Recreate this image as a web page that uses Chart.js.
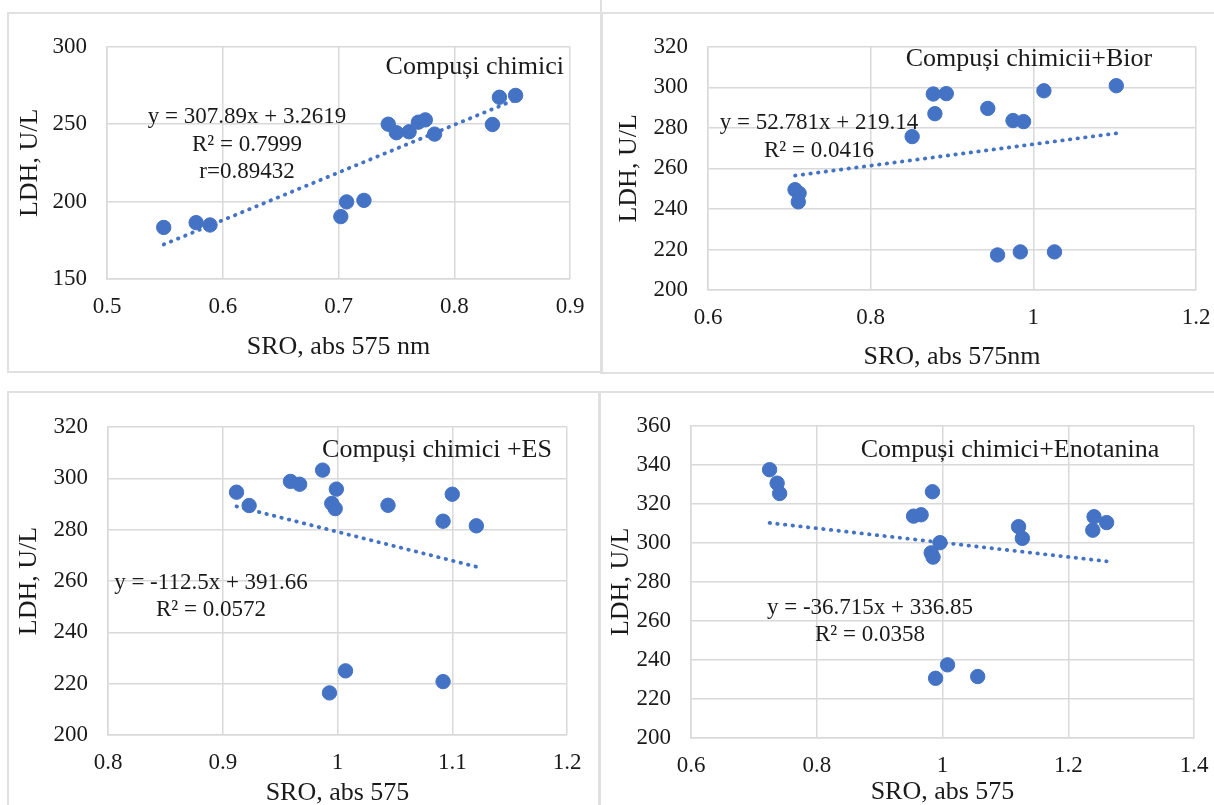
<!DOCTYPE html>
<html>
<head>
<meta charset="utf-8">
<script src="https://cdn.jsdelivr.net/npm/chart.js@4.4.1/dist/chart.umd.min.js"></script>
<style>
  html, body { margin: 0; padding: 0; background: #fff; width: 1214px; height: 805px; overflow: hidden; position: relative; }
  .frame { position: absolute; border: 2px solid #e0e0e0; box-sizing: border-box; }
  canvas { position: absolute; display: block; }
</style>
</head>
<body>
<div class="frame" style="left:7px;top:12px;width:596px;height:361px"></div>
<div class="frame" style="left:600px;top:12px;width:630px;height:362px"></div>
<div class="frame" style="left:600px;top:-5px;width:2px;height:20px;border-width:0 0 0 2px"></div>
<div class="frame" style="left:7px;top:391px;width:594px;height:430px"></div>
<div class="frame" style="left:598px;top:391px;width:630px;height:430px"></div>

<canvas id="chart1"></canvas>
<canvas id="chart2"></canvas>
<canvas id="chart3"></canvas>
<canvas id="chart4"></canvas>

<script>
// ---- data ----
// Compuşii chimici
var p1X = [0.549, 0.577, 0.589, 0.702, 0.707, 0.722, 0.743, 0.750, 0.761, 0.769, 0.775, 0.783, 0.833, 0.839, 0.853];
var p1Y = [183.3, 186.4, 184.9, 190.3, 199.8, 200.8, 250.0, 244.5, 245.1, 251.3, 252.8, 243.6, 249.8, 267.4, 268.6];
var p1XTicks = [0.5, 0.6, 0.7, 0.8, 0.9];
var p1YTicks = [150, 200, 250, 300];
var p1Fit = [307.89, 3.2619];
var p1Name = "Compuși chimici";
var p1Eq = ["y = 307.89x + 3.2619", "R² = 0.7999", "r=0.89432"];

// Compuşii chimicii+Bior
var p2X = [0.707, 0.712, 0.711, 0.851, 0.877, 0.893, 0.879, 0.944, 0.975, 0.988, 1.013, 1.102, 0.956, 0.984, 1.026];
var p2Y = [249.5, 247.7, 243.5, 275.7, 296.7, 296.9, 287.0, 289.6, 283.6, 283.1, 298.3, 300.8, 217.3, 218.8, 218.8];
var p2XTicks = [0.6, 0.8, 1, 1.2];
var p2YTicks = [200, 220, 240, 260, 280, 300, 320];
var p2Fit = [52.781, 219.14];
var p2Name = "Compuși chimicii+Bior";
var p2Eq = ["y = 52.781x + 219.14", "R² = 0.0416"];

// Compuşii chimici +ES
var p3X = [0.912, 0.923, 0.959, 0.967, 0.987, 0.999, 0.995, 0.998, 1.044, 1.100, 1.092, 1.121, 1.007, 0.993, 1.092];
var p3Y = [294.6, 289.4, 298.8, 297.7, 303.2, 295.8, 290.2, 288.2, 289.5, 293.8, 283.3, 281.5, 225.0, 216.4, 220.8];
var p3XTicks = [0.8, 0.9, 1, 1.1, 1.2];
var p3YTicks = [200, 220, 240, 260, 280, 300, 320];
var p3Fit = [-112.5, 391.66];
var p3Name = "Compuși chimici +ES";
var p3Eq = ["y = -112.5x + 391.66", "R² = 0.0572"];

// Compuşii chimici+Enotanina
var p4X = [0.725, 0.737, 0.741, 0.984, 0.954, 0.966, 0.996, 0.982, 0.985, 1.121, 1.127, 1.241, 1.239, 1.261, 1.008, 0.989, 1.056];
var p4Y = [337.5, 330.6, 325.3, 326.2, 313.7, 314.4, 300.1, 294.9, 292.7, 308.3, 302.3, 313.4, 306.5, 310.4, 237.5, 230.6, 231.5];
var p4XTicks = [0.6, 0.8, 1, 1.2, 1.4];
var p4YTicks = [200, 220, 240, 260, 280, 300, 320, 340, 360];
var p4Fit = [-36.715, 336.85];
var p4Name = "Compuși chimici+Enotanina";
var p4Eq = ["y = -36.715x + 336.85", "R² = 0.0358"];

var yTitle = "LDH, U/L";
var xTitles = ["SRO, abs 575 nm", "SRO, abs 575nm", "SRO, abs 575", "SRO, abs 575"];

// ---- look ----
var BLUE = '#4472c4';
var INK = '#1a1a1a';
var GRID = '#d9d9d9';
var FONT = 'Liberation Serif';
var TICK_SIZE = 23;
var TITLE_SIZE = 26;
var NAME_SIZE = 26;
var EQ_SIZE = 23;

// page-pixel geometry of each panel (canvas box, plot area, title centres, note anchors)
var geo = [
    {left: 7, top: 13, w: 594, h: 360, plotL: 107, plotR: 570, plotT: 43, plotB: 279, yTitleX: 30, xTitleY: 347,
     nameX: 564, nameY: 67, nameAlign: 'right', eqX: 247, eqY: 117, eqGap: 27.5},
    {left: 601, top: 13, w: 640, h: 360, plotL: 708, plotR: 1196, plotT: 42, plotB: 290, yTitleX: 629, xTitleY: 357,
     nameX: 1029, nameY: 59, nameAlign: 'center', eqX: 819, eqY: 123, eqGap: 28},
    {left: 7, top: 392, w: 592, h: 430, plotL: 108, plotR: 567, plotT: 427, plotB: 735, yTitleX: 29, xTitleY: 793,
     nameX: 437, nameY: 450, nameAlign: 'center', eqX: 211, eqY: 583, eqGap: 27},
    {left: 599, top: 392, w: 640, h: 430, plotL: 691, plotR: 1194, plotT: 421, plotB: 738, yTitleX: 621, xTitleY: 792,
     nameX: 1010, nameY: 450, nameAlign: 'center', eqX: 870, eqY: 608, eqGap: 27}
];

function fmt(v) {
    return String(+v.toFixed(2));
}

// writes the series name and regression text on the plot
var notesPlugin = {
    id: 'notes',
    afterDraw: function(chart, args, opts) {
        var ctx = chart.ctx;
        ctx.save();
        ctx.fillStyle = INK;
        ctx.textBaseline = 'middle';
        opts.items.forEach(function(it) {
            ctx.font = it.size + 'px "' + FONT + '"';
            ctx.textAlign = it.align;
            ctx.fillText(it.text, it.x, it.y);
        });
        ctx.restore();
    }
};

function makePanel(id, g, xs, ys, xTicks, yTicks, fit, name, eq, xTitle) {
    var cv = document.getElementById(id);
    cv.width = g.w;
    cv.height = g.h;
    cv.style.left = g.left + 'px';
    cv.style.top = g.top + 'px';

    var lh = TITLE_SIZE * 1.2;
    var padL = g.yTitleX - g.left - lh / 2;
    var yW = g.plotL - g.left - padL;
    var xBottom = g.xTitleY - g.top + lh / 2;
    var padB = g.h - xBottom;
    var xH = xBottom - (g.plotB - g.top);
    var padT = g.plotT - g.top;
    var padR = g.left + g.w - g.plotR;

    var pts = xs.map(function(x, i) { return {x: x, y: ys[i]}; });
    var x0 = Math.min.apply(null, xs);
    var x1 = Math.max.apply(null, xs);
    var trend = [{x: x0, y: fit[0] * x0 + fit[1]}, {x: x1, y: fit[0] * x1 + fit[1]}];

    var items = [{text: name, x: g.nameX - g.left, y: g.nameY - g.top, align: g.nameAlign, size: NAME_SIZE}];
    eq.forEach(function(t, i) {
        items.push({text: t, x: g.eqX - g.left, y: g.eqY - g.top + i * g.eqGap, align: 'center', size: EQ_SIZE});
    });

    return new Chart(cv, {
        type: 'scatter',
        data: {
            datasets: [
                {
                    data: trend,
                    showLine: true,
                    borderColor: BLUE,
                    borderWidth: 3.8,
                    borderDash: [0.5, 7.2],
                    borderCapStyle: 'round',
                    pointRadius: 0,
                    order: 1
                },
                {
                    data: pts,
                    backgroundColor: BLUE,
                    borderColor: BLUE,
                    pointRadius: 7.2,
                    pointHoverRadius: 7.2,
                    order: 2
                }
            ]
        },
        options: {
            responsive: false,
            animation: false,
            events: [],
            layout: {padding: {left: padL, right: padR, top: padT, bottom: padB}},
            plugins: {
                legend: {display: false},
                tooltip: {enabled: false},
                notes: {items: items}
            },
            scales: {
                x: {
                    type: 'linear',
                    min: xTicks[0],
                    max: xTicks[xTicks.length - 1],
                    ticks: {
                        stepSize: xTicks[1] - xTicks[0],
                        font: {family: FONT, size: TICK_SIZE},
                        color: INK,
                        padding: 14,
                        maxRotation: 0,
                        autoSkip: false,
                        callback: fmt
                    },
                    grid: {color: GRID, lineWidth: 1.5, drawTicks: false},
                    border: {color: GRID, width: 1.5},
                    title: {display: true, text: xTitle, font: {family: FONT, size: TITLE_SIZE}, color: INK, padding: 0},
                    afterFit: function(s) { s.height = xH; }
                },
                y: {
                    type: 'linear',
                    min: yTicks[0],
                    max: yTicks[yTicks.length - 1],
                    ticks: {
                        stepSize: yTicks[1] - yTicks[0],
                        font: {family: FONT, size: TICK_SIZE},
                        color: INK,
                        padding: 20,
                        callback: fmt
                    },
                    grid: {color: GRID, lineWidth: 1.5, drawTicks: false},
                    border: {color: GRID, width: 1.5},
                    title: {display: true, text: yTitle, font: {family: FONT, size: TITLE_SIZE}, color: INK, padding: 0},
                    afterFit: function(s) { s.width = yW; }
                }
            }
        },
        plugins: [notesPlugin]
    });
}

makePanel('chart1', geo[0], p1X, p1Y, p1XTicks, p1YTicks, p1Fit, p1Name, p1Eq, xTitles[0]);
makePanel('chart2', geo[1], p2X, p2Y, p2XTicks, p2YTicks, p2Fit, p2Name, p2Eq, xTitles[1]);
makePanel('chart3', geo[2], p3X, p3Y, p3XTicks, p3YTicks, p3Fit, p3Name, p3Eq, xTitles[2]);
makePanel('chart4', geo[3], p4X, p4Y, p4XTicks, p4YTicks, p4Fit, p4Name, p4Eq, xTitles[3]);
</script>
</body>
</html>
